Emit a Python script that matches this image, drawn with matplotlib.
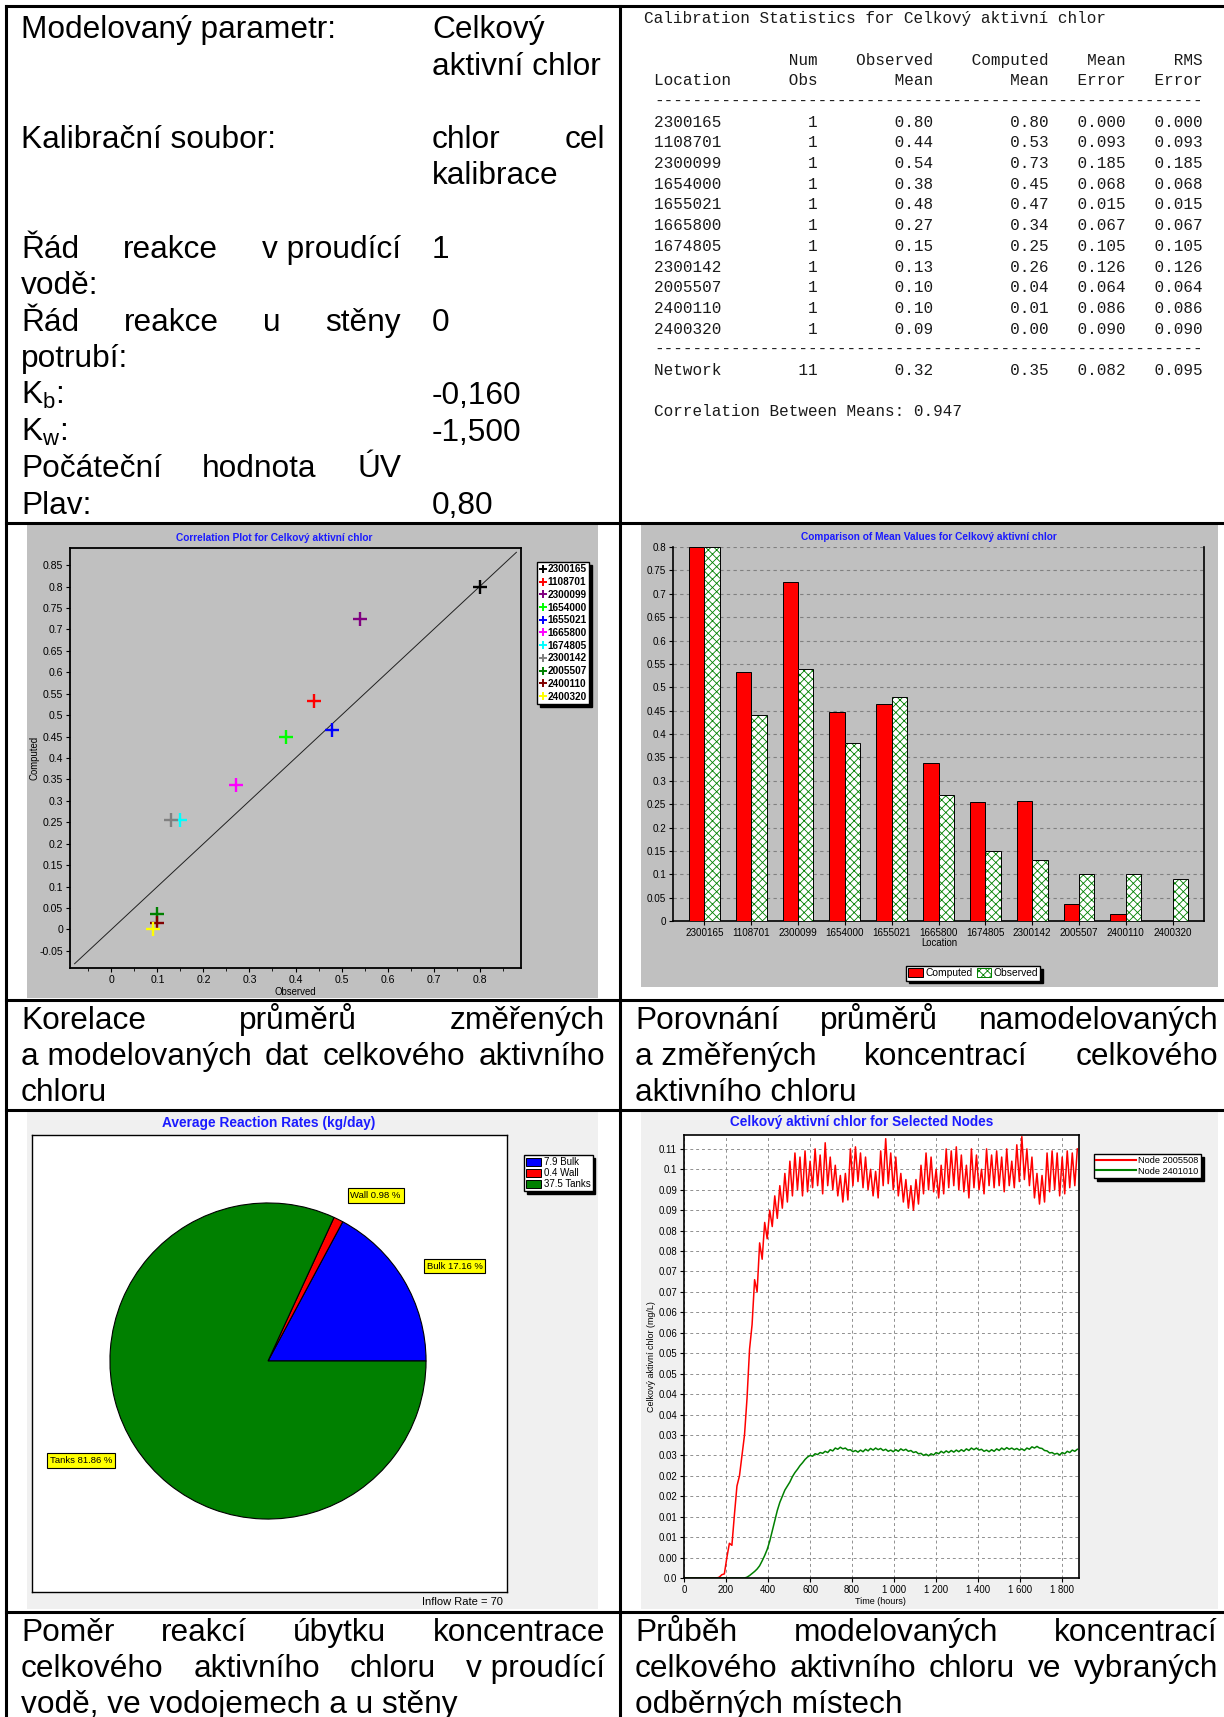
import numpy as np
import matplotlib
matplotlib.use("Agg")
import matplotlib.pyplot as plt
from matplotlib.patches import Rectangle, Patch
from matplotlib.lines import Line2D
from matplotlib.ticker import FuncFormatter

plt.rcParams['font.family'] = ['Liberation Sans', 'DejaVu Sans']
plt.rcParams['mathtext.fontset'] = 'custom'
plt.rcParams['mathtext.rm'] = 'Liberation Sans'
plt.rcParams['mathtext.it'] = 'Liberation Sans:italic'
plt.rcParams['hatch.linewidth'] = 0.6

W, H = 1224, 1717

# ---------------- data ----------------
locations = ['2300165', '1108701', '2300099', '1654000', '1655021', '1665800',
             '1674805', '2300142', '2005507', '2400110', '2400320']
num_obs = [1, 1, 1, 1, 1, 1, 1, 1, 1, 1, 1]
observed = [0.80, 0.44, 0.54, 0.38, 0.48, 0.27, 0.15, 0.13, 0.10, 0.10, 0.09]
computed = [0.800, 0.533, 0.7254, 0.448, 0.4651, 0.337, 0.2549, 0.256, 0.036, 0.014, 0.000]
mean_err = [0.000, 0.093, 0.185, 0.068, 0.015, 0.067, 0.105, 0.126, 0.064, 0.086, 0.090]
rms_err = [0.000, 0.093, 0.185, 0.068, 0.015, 0.067, 0.105, 0.126, 0.064, 0.086, 0.090]
network_stats = [11, 0.32, 0.35, 0.082, 0.095]
corr_means = 0.947
point_colors = ['#000000', '#ff0000', '#800080', '#00ff00', '#0000ff', '#ff00ff',
                '#00ffff', '#808080', '#008000', '#800000', '#ffff00']

pie_names = ['Bulk', 'Wall', 'Tanks']
pie_rates = [7.9, 0.4, 37.5]
pie_pct = [17.16, 0.98, 81.86]
pie_colors = ['#0000ff', '#ff0000', '#008000']
inflow_rate = 70

node_names = ['Node 2005508', 'Node 2401010']
step_hours = 12
node_red = [0.0] * 14 + [
    0.0002, 0.0008, 0.0010, 0.0050, 0.0085, 0.0080, 0.0155, 0.0225, 0.0250, 0.0300,
    0.0350, 0.0440, 0.0560, 0.0620, 0.0730, 0.0700, 0.0820, 0.0780, 0.0870, 0.0830,
    0.0900, 0.0860, 0.0935, 0.0880, 0.0960, 0.0905, 0.0990, 0.0920, 0.1020, 0.0935,
    0.1040, 0.0950, 0.1030, 0.0935, 0.1045, 0.0945, 0.1020, 0.0955, 0.1050, 0.0960,
    0.1035, 0.0940, 0.1065, 0.0960, 0.1030, 0.0950, 0.1010, 0.0935, 0.0985, 0.0920,
    0.0990, 0.0925, 0.1050, 0.0960, 0.1055, 0.0970, 0.1040, 0.0955, 0.1030, 0.0950,
    0.1000, 0.0935, 0.0995, 0.0930, 0.1045, 0.0960, 0.1075, 0.0965, 0.1040, 0.0950,
    0.1030, 0.0935, 0.0990, 0.0920, 0.0975, 0.0905, 0.0960, 0.0900, 0.0975, 0.0915,
    0.1010, 0.0940, 0.1040, 0.0950, 0.1030, 0.0945, 0.1000, 0.0930, 0.1010, 0.0940,
    0.1050, 0.0955, 0.1045, 0.0960, 0.1055, 0.0950, 0.1035, 0.0945, 0.1010, 0.0930,
    0.1050, 0.0955, 0.1035, 0.0950, 0.1000, 0.0940, 0.1050, 0.0960, 0.1035, 0.0955,
    0.1045, 0.0960, 0.1030, 0.0945, 0.1050, 0.0960, 0.1020, 0.0955, 0.1060, 0.0970,
    0.1080, 0.0975, 0.1050, 0.0960, 0.1030, 0.0930, 0.0990, 0.0915, 0.0985, 0.0920,
    0.1040, 0.0945, 0.1045, 0.0950, 0.1040, 0.0935, 0.1030, 0.0940, 0.1045, 0.0955,
    0.1040, 0.0960, 0.1050]
node_green = [0.0] * 25 + [
    0.0002, 0.0006, 0.0011, 0.0016, 0.0022, 0.0030, 0.0042, 0.0055, 0.0070, 0.0090,
    0.0115, 0.0140, 0.0165, 0.0185, 0.0200, 0.0215, 0.0225, 0.0235, 0.0248, 0.0258,
    0.0266, 0.0275, 0.0282, 0.0290, 0.0296, 0.0300, 0.0298, 0.0304, 0.0302, 0.0307,
    0.0305, 0.0310, 0.0307, 0.0314, 0.0311, 0.0318, 0.0315, 0.0320, 0.0316, 0.0318,
    0.0313, 0.0314, 0.0309, 0.0312, 0.0308, 0.0313, 0.0309, 0.0315, 0.0311, 0.0317,
    0.0313, 0.0318, 0.0314, 0.0317, 0.0312, 0.0315, 0.0310, 0.0313, 0.0309, 0.0314,
    0.0310, 0.0316, 0.0312, 0.0315, 0.0310, 0.0312, 0.0307, 0.0309, 0.0304, 0.0305,
    0.0300, 0.0303, 0.0299, 0.0304, 0.0301, 0.0307, 0.0304, 0.0310, 0.0306, 0.0311,
    0.0307, 0.0312, 0.0308, 0.0313, 0.0309, 0.0314, 0.0310, 0.0316, 0.0312, 0.0318,
    0.0314, 0.0318, 0.0313, 0.0315, 0.0310, 0.0313, 0.0309, 0.0314, 0.0310, 0.0316,
    0.0312, 0.0318, 0.0314, 0.0319, 0.0315, 0.0318, 0.0314, 0.0317, 0.0313, 0.0316,
    0.0312, 0.0318, 0.0315, 0.0321, 0.0318, 0.0322, 0.0318, 0.0317, 0.0312, 0.0311,
    0.0306, 0.0307, 0.0303, 0.0305, 0.0301, 0.0307, 0.0304, 0.0310, 0.0307, 0.0313,
    0.0310, 0.0315]
time_ticks = [0, 200, 400, 600, 800, 1000, 1200, 1400, 1600, 1800]
time_labels = ['0', '200', '400', '600', '800', '1 000', '1 200', '1 400', '1 600', '1 800']
conc_labels = ['0.0', '0.00', '0.01', '0.01', '0.02', '0.02', '0.03', '0.03', '0.04', '0.04', '0.05',
               '0.05', '0.06', '0.06', '0.07', '0.07', '0.08', '0.08', '0.09', '0.09', '0.1', '0.11']

# ---------------- helpers (pixel coords, y from top) ----------------
fig = plt.figure(figsize=(W / 100, H / 100), dpi=100)
fig.patch.set_facecolor('white')
renderer = fig.canvas.get_renderer()


def add_ax(x0, y0, x1, y1):
    return fig.add_axes([x0 / W, 1 - y1 / H, (x1 - x0) / W, (y1 - y0) / H])


def fill_rect(x0, y0, x1, y1, color):
    fig.add_artist(Rectangle((x0 / W, 1 - y1 / H), (x1 - x0) / W, (y1 - y0) / H,
                             transform=fig.transFigure, facecolor=color,
                             edgecolor='none', zorder=-10))


def rule(x0, y0, x1, y1):
    fig.add_artist(Line2D([x0 / W, x1 / W], [1 - y0 / H, 1 - y1 / H],
                          transform=fig.transFigure, color='black', lw=2.2,
                          solid_capstyle='projecting', zorder=20))


def ftext(x, y, s, **kw):
    return fig.text(x / W, 1 - y / H, s, **kw)


def text_line(words, x0, x1, y, justify, size=22.8):
    if not words:
        return
    if not justify or len(words) == 1:
        ftext(x0, y, ' '.join(words), fontsize=size, va='baseline')
        return
    widths = []
    for w in words:
        t = ftext(0, 0, w, fontsize=size)
        widths.append(t.get_window_extent(renderer).width)
        t.remove()
    gap = (x1 - x0 - sum(widths)) / (len(words) - 1)
    x = x0
    for w, wd in zip(words, widths):
        ftext(x, y, w, fontsize=size, va='baseline')
        x += wd + gap


def num_fmt(v, pos):
    v = round(v, 3)
    return '0' if abs(v) < 1e-9 else f"{v:g}"


shadow_props = {'facecolor': 'black', 'edgecolor': 'black', 'alpha': 1, 'ox': 2, 'oy': -2}
title_blue = '#1a1aff'

# ---------------- table borders ----------------
rule(6, 6, 1224, 6)
rule(6, 6, 6, 1717)
rule(620, 6, 620, 1717)
for yy in [523, 1000, 1110, 1612]:
    rule(6, yy, 1224, yy)

# ---------------- top-left parameters ----------------
param_lines = [
    (0, ['Modelovaný parametr:'], False, ['Celkový'], False),
    (1, [], False, ['aktivní chlor'], False),
    (3, ['Kalibrační soubor:'], False, ['chlor', 'cel'], True),
    (4, [], False, ['kalibrace'], False),
    (6, ['Řád', 'reakce', 'v proudící'], True, ['1'], False),
    (7, ['vodě:'], False, [], False),
    (8, ['Řád', 'reakce', 'u', 'stěny'], True, ['0'], False),
    (9, ['potrubí:'], False, [], False),
    (10, [r'$\mathrm{K}_\mathrm{b}$:'], False, ['-0,160'], False),
    (11, [r'$\mathrm{K}_\mathrm{w}$:'], False, ['-1,500'], False),
    (12, ['Počáteční', 'hodnota', 'ÚV'], True, [], False),
    (13, ['Plav:'], False, ['0,80'], False),
]
for row, lw_, lj, rw, rj in param_lines:
    y = 38 + 36.6 * row
    text_line(lw_, 21, 401, y, lj)
    text_line(rw, 432, 605, y, rj)

# ---------------- top-right calibration statistics ----------------
tbl = []
tbl.append((0, 'Calibration Statistics for Celkový aktivní chlor', 644.5))
tbl.append((2, f"{'':10}{'Num':>7}{'Observed':>12}{'Computed':>12}{'Mean':>8}{'RMS':>8}", 654))
tbl.append((3, f"{'Location':<10}{'Obs':>7}{'Mean':>12}{'Mean':>12}{'Error':>8}{'Error':>8}", 654))
tbl.append((4, '-' * 57, 654))
for i, loc in enumerate(locations):
    tbl.append((5 + i, f"{loc:<10}{num_obs[i]:>7}{observed[i]:>12.2f}{computed[i]:>12.2f}"
                       f"{mean_err[i]:>8.3f}{rms_err[i]:>8.3f}", 654))
tbl.append((16, '-' * 57, 654))
n, om, cm, me, rm = network_stats
tbl.append((17, f"{'Network':<10}{n:>7}{om:>12.2f}{cm:>12.2f}{me:>8.3f}{rm:>8.3f}", 654))
tbl.append((19, f"Correlation Between Means: {corr_means:.3f}", 654))
for k, s, x in tbl:
    ftext(x, 18.6 + 20.7 * k, s, family='Liberation Mono', fontsize=11.5,
          va='center', color='#1a1a1a')

# ---------------- correlation plot ----------------
fill_rect(27, 525, 598, 998, '#c0c0c0')
ax1 = add_ax(70, 548, 521, 968)
ax1.set_facecolor('#c0c0c0')
ax1.set_xlim(-0.09, 0.89)
ax1.set_ylim(-0.09, 0.89)
ax1.plot([-0.08, 0.88], [-0.08, 0.88], color='#202020', lw=0.7)
for i, loc in enumerate(locations):
    ax1.plot(observed[i], computed[i], marker='+', ms=9.5, mew=1.7,
             color=point_colors[i], ls='none')
ax1.set_xticks(np.arange(0, 0.81, 0.1))
ax1.set_xticks(np.arange(-0.05, 0.86, 0.05), minor=True)
ax1.set_yticks(np.arange(-0.05, 0.86, 0.05))
ax1.xaxis.set_major_formatter(FuncFormatter(num_fmt))
ax1.yaxis.set_major_formatter(FuncFormatter(num_fmt))
ax1.tick_params(labelsize=7.6, direction='out', length=3, width=0.8, pad=2)
ax1.tick_params(which='minor', direction='out', length=2, width=0.6)
for sp in ax1.spines.values():
    sp.set_linewidth(1.3)
ftext(274, 538, 'Correlation Plot for Celkový aktivní chlor', fontsize=7.3,
      weight='bold', color=title_blue, ha='center', va='center')
ftext(34, 758, 'Computed', fontsize=6.9, rotation=90, ha='center', va='center')
ftext(295, 992, 'Observed', fontsize=6.9, ha='center', va='center')
h1 = [Line2D([], [], marker='+', color=c, ls='none', ms=6, mew=1.4) for c in point_colors]
fig.legend(h1, locations, loc='upper left', bbox_to_anchor=(537 / W, 1 - 562 / H),
           prop={'weight': 'bold', 'size': 7.2}, fancybox=False, edgecolor='black',
           framealpha=1, shadow=shadow_props, handlelength=0.6, handletextpad=0.2,
           labelspacing=0.27, borderpad=0.25, borderaxespad=0)

# ---------------- bar chart ----------------
fill_rect(641, 525, 1218, 987, '#c0c0c0')
ax2 = add_ax(673, 547, 1204, 921)
ax2.set_facecolor('#c0c0c0')
xs = np.arange(len(locations))
bw = 0.33
ax2.bar(xs - bw / 2, computed, bw, color='#ff0000', edgecolor='black', lw=0.7, zorder=3)
ax2.bar(xs + bw / 2, observed, bw, color='white', edgecolor='#008000', hatch='xxxx',
        lw=0, zorder=3)
ax2.bar(xs + bw / 2, observed, bw, fill=False, edgecolor='black', lw=0.7, zorder=4)
ax2.set_xlim(-0.67, 10.67)
ax2.set_ylim(0, 0.8)
ax2.set_yticks(np.arange(0, 0.81, 0.05))
ax2.yaxis.set_major_formatter(FuncFormatter(num_fmt))
ax2.set_xticks(xs)
ax2.set_xticklabels(locations)
ax2.yaxis.grid(True, ls=(0, (3, 3)), color='#808080', lw=0.8)
ax2.set_axisbelow(True)
ax2.tick_params(labelsize=7.1, direction='out', length=3, width=0.8, pad=2)
ax2.spines['top'].set_visible(False)
for sp in ['left', 'bottom', 'right']:
    ax2.spines[sp].set_linewidth(1.2)
ftext(929, 537, 'Comparison of Mean Values for Celkový aktivní chlor', fontsize=7.3,
      weight='bold', color=title_blue, ha='center', va='center')
ftext(939, 943, 'Location', fontsize=6.9, ha='center', va='center')
h2 = [Patch(facecolor='#ff0000', edgecolor='black', lw=0.7),
      Patch(facecolor='white', edgecolor='#008000', hatch='xxxx', lw=0.7)]
fig.legend(h2, ['Computed', 'Observed'], loc='upper left', ncol=2,
           bbox_to_anchor=(906 / W, 1 - 966 / H), fontsize=7.4, fancybox=False,
           edgecolor='black', framealpha=1, shadow=shadow_props, handlelength=1.4,
           handleheight=0.9, handletextpad=0.25, columnspacing=0.4, borderpad=0.22,
           borderaxespad=0)

# ---------------- pie chart ----------------
fill_rect(27, 1112, 598, 1609, '#f0f0f0')
axf = add_ax(32, 1135, 507, 1592)
axf.set_facecolor('white')
axf.set_xticks([])
axf.set_yticks([])
for sp in axf.spines.values():
    sp.set_linewidth(1.0)
ax3 = add_ax(268 - 162, 1361 - 162, 268 + 162, 1361 + 162)
wedges, _ = ax3.pie(pie_pct, colors=pie_colors, startangle=0, counterclock=True,
                    wedgeprops=dict(edgecolor='black', lw=0.8))
ax3.set_xlim(-1.025, 1.025)
ax3.set_ylim(-1.025, 1.025)
ax3.set_aspect('equal')
ax3.patch.set_visible(False)
for wdg, name, pct in zip(wedges, pie_names, pie_pct):
    ang = np.deg2rad((wdg.theta1 + wdg.theta2) / 2)
    cx, cy = np.cos(ang), np.sin(ang)
    ax3.text(1.17 * cx, 1.17 * cy, f"{name} {pct:.2f} %", fontsize=6.8,
             ha='left' if cx > 0 else 'right', va='center', clip_on=False,
             bbox=dict(boxstyle='square,pad=0.3', facecolor='#ffff00', edgecolor='black', lw=0.8))
ftext(269, 1123, 'Average Reaction Rates (kg/day)', fontsize=9.9, weight='bold',
      color=title_blue, ha='center', va='center')
ftext(462, 1602, f'Inflow Rate = {inflow_rate}', fontsize=8.0, ha='center', va='center')
h3 = [Patch(facecolor=c, edgecolor='black', lw=0.7) for c in pie_colors]
fig.legend(h3, [f'{r} {nm}' for r, nm in zip(pie_rates, pie_names)], loc='upper left',
           bbox_to_anchor=(524 / W, 1 - 1155 / H), fontsize=7.0, fancybox=False,
           edgecolor='black', framealpha=1, shadow=shadow_props, handlelength=1.5,
           handleheight=0.9, handletextpad=0.3, labelspacing=0.1, borderpad=0.22,
           borderaxespad=0)

# ---------------- time series ----------------
fill_rect(641, 1112, 1218, 1609, '#f0f0f0')
ax4 = add_ax(684, 1135, 1079, 1578)
ax4.set_facecolor('white')
hrs_red = np.arange(len(node_red)) * step_hours
hrs_green = np.arange(len(node_green)) * step_hours
ax4.plot(hrs_red, node_red, color='#ff0000', lw=1.1)
ax4.plot(hrs_green, node_green, color='#008000', lw=1.1)
ax4.set_xlim(0, 1880)
ax4.set_ylim(0, 0.1084)
ax4.set_xticks(time_ticks)
ax4.set_xticklabels(time_labels)
ax4.set_yticks(np.arange(len(conc_labels)) * 0.005)
ax4.set_yticklabels(conc_labels)
ax4.grid(True, ls=(0, (3, 3)), color='#909090', lw=0.7)
ax4.tick_params(labelsize=6.9, direction='out', length=3, width=0.8, pad=2)
for sp in ax4.spines.values():
    sp.set_linewidth(1.2)
ftext(862, 1122, 'Celkový aktivní chlor for Selected Nodes', fontsize=9.8, weight='bold',
      color=title_blue, ha='center', va='center')
ftext(652, 1357, 'Celkový aktivní chlor (mg/L)', fontsize=6.4, rotation=90,
      ha='center', va='center')
ftext(880, 1601, 'Time (hours)', fontsize=6.5, ha='center', va='center')
h4 = [Line2D([], [], color='#ff0000', lw=1.5), Line2D([], [], color='#008000', lw=1.5)]
fig.legend(h4, node_names, loc='upper left', bbox_to_anchor=(1094 / W, 1 - 1154 / H),
           fontsize=6.6, fancybox=False, edgecolor='black', framealpha=1,
           shadow=shadow_props, handlelength=4.3, handletextpad=0.3, labelspacing=0.15,
           borderpad=0.25, borderaxespad=0)

# ---------------- captions ----------------
captions = [
    (21, 605, 1029, [(['Korelace', 'průměrů', 'změřených'], True),
                     (['a modelovaných', 'dat', 'celkového', 'aktivního'], True),
                     (['chloru'], False)]),
    (635, 1218, 1029, [(['Porovnání', 'průměrů', 'namodelovaných'], True),
                       (['a změřených', 'koncentrací', 'celkového'], True),
                       (['aktivního chloru'], False)]),
    (21, 605, 1641, [(['Poměr', 'reakcí', 'úbytku', 'koncentrace'], True),
                     (['celkového', 'aktivního', 'chloru', 'v proudící'], True),
                     (['vodě, ve vodojemech a u stěny'], False)]),
    (635, 1218, 1641, [(['Průběh', 'modelovaných', 'koncentrací'], True),
                       (['celkového', 'aktivního', 'chloru', 've', 'vybraných'], True),
                       (['odběrných místech'], False)]),
]
for x0, x1, y0, lines in captions:
    for j, (words, just) in enumerate(lines):
        text_line(words, x0, x1, y0 + 36 * j, just)

fig.savefig('out.png', dpi=100)
